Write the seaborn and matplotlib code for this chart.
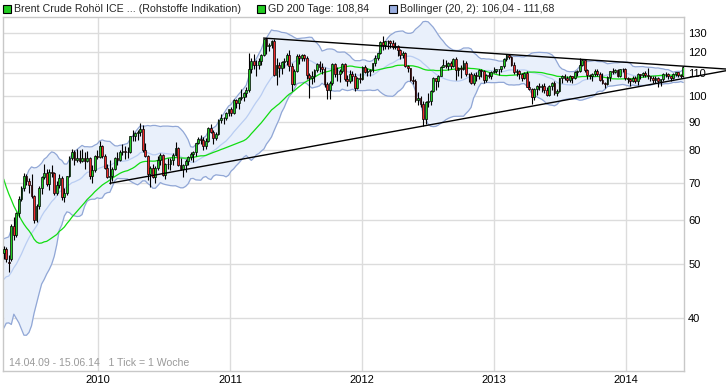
import numpy as np
import pandas as pd
import matplotlib
matplotlib.use("Agg")
import matplotlib.pyplot as plt
from matplotlib.patches import Rectangle
from matplotlib.ticker import NullLocator
import seaborn as sns

# weekly candles Brent Crude, weeks from 14.04.2009 to 09.06.2014
first_week = "2009-04-14"

opens = [
    # 2009
    52.4, 53.2, 50.3, 51.0, 58.4, 56.3, 61.6, 65.4, 68.4, 72.0, 70.4, 69.2, 66.1, 59.9, 63.6, 68.5, 71.7, 72.9, 69.7,
    73.2, 72.8, 67.0, 69.3, 71.2, 65.9, 67.0, 71.8, 77.5, 79.5, 76.9, 77.4, 76.4, 77.5, 76.6, 77.5, 71.8, 73.7, 78.0,
    # 2010
    77.9, 81.4, 78.0, 74.5, 71.5, 71.9, 74.1, 77.6, 77.0, 79.5, 79.8, 79.6, 79.4, 84.8, 84.9, 85.9, 86.2, 87.4, 80.2,
    78.0, 72.5, 74.4, 71.5, 74.4, 77.0, 78.6, 72.1, 75.5, 75.6, 76.9, 78.4, 80.7, 75.4, 74.0, 75.2, 76.6, 77.9, 78.7,
    79.3, 82.3, 83.9, 83.6, 81.5, 83.2, 87.9, 86.3, 84.3, 85.6, 90.7, 91.4, 91.4, 93.5,
    # 2011
    94.8, 93.3, 98.7, 97.4, 99.4, 99.8, 101.4, 102.5, 112.1, 116.0, 113.8, 114.0, 115.6, 118.7, 126.7, 123.4, 123.9,
    125.9, 109.1, 113.8, 112.4, 115.1, 115.8, 118.8, 113.2, 105.1, 111.3, 118.3, 117.2, 118.7, 117.0, 109.4, 108.0,
    108.6, 111.4, 114.3, 112.8, 112.2, 105.1, 102.8, 105.9, 114.4, 109.6, 109.9, 111.0, 114.2, 107.6, 106.4, 109.9,
    108.6, 103.4, 107.9,
    # 2012
    107.4, 113.1, 110.4, 110.9, 111.5, 114.6, 117.3, 119.6, 125.5, 123.7, 125.9, 125.8, 124.9, 122.9, 123.4, 121.2,
    118.9, 119.8, 113.2, 112.3, 107.1, 106.8, 98.4, 99.5, 97.0, 90.9, 97.8, 98.2, 102.4, 107.8, 106.5, 109.0, 113.0,
    113.7, 113.6, 114.6, 113.5, 116.7, 111.4, 112.4, 112.0, 114.6, 109.6, 109.6, 105.7, 109.4, 108.9, 111.4, 111.2,
    107.0, 109.2, 109.0, 110.6,
    # 2013
    111.3, 111.9, 111.9, 113.3, 116.8, 118.9, 117.7, 114.0, 110.4, 110.9, 109.8, 107.9, 110.0, 104.1, 102.9, 99.7,
    102.9, 104.2, 103.9, 104.6, 102.6, 100.4, 104.6, 105.9, 101.4, 102.2, 107.7, 108.8, 108.1, 107.2, 108.9, 108.0,
    110.4, 111.0, 114.0, 116.1, 111.7, 109.2, 108.6, 109.5, 111.3, 109.9, 106.9, 105.5, 105.1, 108.5, 111.0, 110.8,
    111.6, 108.8, 111.8, 112.2,
    # 2014
    107.8, 107.3, 106.5, 107.9, 106.4, 109.6, 109.1, 110.1, 109.1, 108.9, 108.0, 106.9, 108.1, 106.7, 107.3, 109.5,
    109.6, 108.6, 108.0, 109.8, 110.5, 109.4, 108.6,
]

highs = [
    # 2009
    53.8, 53.6, 51.8, 58.9, 60.6, 62.0, 66.2, 69.0, 72.8, 72.6, 71.2, 72.4, 66.4, 64.0, 69.0, 72.0, 75.5, 74.0, 74.0,
    75.2, 73.2, 70.5, 72.5, 71.8, 68.4, 72.0, 78.0, 80.6, 80.0, 80.4, 80.0, 80.6, 79.6, 79.8, 77.8, 75.4, 78.4, 80.0,
    # 2010
    83.0, 81.9, 78.8, 75.6, 77.0, 74.8, 77.9, 79.4, 80.0, 82.0, 81.5, 81.0, 85.0, 86.9, 86.2, 87.0, 89.4, 88.9, 82.4,
    78.4, 75.0, 75.7, 75.0, 78.2, 79.2, 78.9, 76.0, 77.4, 77.5, 79.0, 82.7, 81.2, 77.6, 75.6, 77.2, 78.3, 79.6, 79.8,
    82.6, 84.6, 85.2, 84.6, 84.2, 88.0, 89.2, 87.0, 86.4, 91.2, 92.8, 92.0, 93.8, 95.0,
    # 2011
    95.8, 98.8, 99.0, 99.6, 103.0, 102.0, 104.0, 119.8, 117.0, 119.0, 116.2, 117.0, 119.0, 127.0, 127.6, 124.8, 126.4,
    127.0, 117.0, 115.2, 115.6, 117.0, 119.8, 121.0, 114.6, 112.0, 119.0, 119.4, 119.4, 119.4, 118.0, 110.2, 111.0,
    111.8, 115.0, 115.8, 114.6, 113.0, 106.0, 106.6, 114.8, 114.6, 112.8, 111.8, 115.0, 114.8, 109.4, 111.4, 111.2,
    110.0, 108.4, 110.0,
    # 2012
    113.6, 114.0, 112.4, 111.8, 115.0, 118.6, 119.8, 125.8, 128.4, 126.0, 126.5, 126.2, 126.2, 125.2, 123.8, 121.8,
    120.6, 120.2, 114.0, 112.6, 109.0, 107.4, 102.0, 100.2, 98.0, 98.0, 101.6, 102.6, 108.2, 108.0, 109.4, 113.4,
    116.8, 116.2, 115.4, 115.6, 117.0, 117.9, 113.0, 113.8, 116.2, 116.0, 110.2, 110.6, 110.2, 110.8, 112.0, 112.0,
    111.6, 109.6, 110.6, 111.0, 113.0,
    # 2013
    112.2, 112.2, 113.6, 117.0, 119.2, 119.2, 118.2, 115.2, 111.8, 111.4, 110.2, 110.6, 111.0, 106.4, 103.4, 103.6,
    105.0, 105.6, 105.2, 105.6, 104.0, 105.0, 106.2, 106.6, 103.0, 108.0, 109.4, 109.6, 108.6, 109.4, 109.0, 111.0,
    111.6, 117.3, 116.6, 116.4, 112.2, 109.6, 110.0, 112.0, 111.8, 110.6, 110.0, 106.2, 108.8, 111.2, 112.4, 112.0,
    112.2, 112.0, 112.4, 112.6,
    # 2014
    108.2, 107.8, 108.8, 108.6, 110.0, 109.9, 110.6, 111.0, 112.4, 109.0, 108.6, 108.6, 108.2, 107.6, 110.0, 110.4,
    110.0, 108.8, 110.2, 110.8, 110.8, 109.8, 113.6,
]

lows = [
    # 2009
    51.0, 50.4, 48.4, 50.6, 55.2, 55.8, 60.8, 64.8, 67.5, 69.4, 67.0, 65.8, 59.2, 59.5, 62.8, 66.9, 71.0, 69.0, 68.0,
    71.6, 66.6, 66.4, 68.4, 65.2, 64.6, 66.4, 71.5, 76.8, 75.2, 76.2, 76.0, 76.1, 74.0, 76.2, 71.0, 70.0, 73.2, 77.2,
    # 2010
    77.4, 77.6, 74.0, 71.2, 69.6, 70.5, 73.6, 75.2, 76.4, 78.5, 77.2, 77.6, 79.0, 83.2, 83.0, 83.6, 84.8, 79.6, 77.8,
    70.8, 68.6, 71.2, 70.0, 73.8, 75.4, 71.8, 71.0, 74.2, 73.6, 75.4, 78.2, 75.0, 73.6, 71.6, 73.2, 75.2, 77.0, 76.2,
    78.0, 82.0, 82.0, 80.2, 80.6, 82.8, 85.8, 82.2, 83.6, 85.2, 89.4, 89.2, 90.8, 92.4,
    # 2011
    92.2, 93.0, 95.4, 94.8, 98.6, 98.0, 99.6, 102.0, 110.0, 112.2, 108.6, 112.2, 114.0, 118.0, 119.0, 120.6, 122.4,
    108.8, 105.0, 108.2, 109.8, 112.6, 113.8, 111.2, 102.2, 104.8, 110.6, 114.2, 115.6, 115.8, 107.6, 99.4, 105.2,
    106.0, 110.6, 110.8, 109.8, 104.0, 99.0, 99.0, 105.0, 108.2, 106.4, 106.0, 110.2, 106.8, 104.6, 105.8, 106.6,
    102.4, 103.2, 105.8,
    # 2012
    107.2, 110.0, 108.8, 108.6, 110.6, 113.2, 116.2, 119.2, 121.0, 121.6, 121.8, 122.0, 121.6, 121.8, 118.4, 116.6,
    117.2, 112.8, 110.6, 106.4, 105.2, 97.6, 96.6, 95.6, 88.5, 89.2, 95.6, 96.4, 101.8, 102.8, 103.8, 108.6, 112.8,
    112.6, 111.4, 112.2, 113.0, 107.2, 108.6, 107.8, 111.6, 109.0, 106.2, 105.2, 104.8, 106.8, 107.6, 108.2, 105.8,
    106.0, 107.8, 107.6, 110.0,
    # 2013
    110.0, 109.4, 110.6, 112.4, 115.6, 116.8, 113.4, 109.8, 108.8, 107.6, 106.8, 107.4, 103.8, 102.6, 97.0, 98.6,
    100.4, 102.6, 101.8, 101.6, 100.2, 100.0, 102.8, 100.6, 100.2, 101.8, 105.6, 107.0, 106.2, 106.2, 105.8, 107.6,
    108.6, 110.4, 113.6, 110.8, 107.6, 107.6, 106.6, 108.8, 108.6, 106.4, 105.4, 103.4, 104.8, 106.8, 109.6, 110.0,
    108.2, 108.2, 110.8, 107.2,
    # 2014
    105.8, 104.6, 106.0, 105.6, 104.8, 107.4, 108.2, 108.2, 107.6, 106.4, 105.6, 105.6, 103.8, 104.4, 106.6, 108.2,
    107.4, 106.8, 107.6, 108.6, 108.4, 107.8, 108.4,
]

closes = [
    # 2009
    53.2, 51.0, 50.2, 58.4, 56.3, 61.6, 65.4, 68.4, 72.0, 70.4, 69.2, 66.1, 59.9, 63.6, 68.5, 71.7, 72.9, 69.7, 73.2,
    72.8, 67.0, 69.3, 71.2, 65.9, 67.0, 71.8, 77.5, 79.5, 76.9, 77.4, 76.4, 77.5, 76.6, 77.5, 71.8, 73.7, 78.0, 77.9,
    # 2010
    81.4, 78.0, 74.5, 71.5, 71.9, 74.1, 77.6, 77.0, 79.5, 79.8, 79.6, 79.4, 84.8, 84.9, 85.9, 86.2, 87.4, 80.2, 78.0,
    72.5, 74.4, 71.5, 74.4, 77.0, 78.6, 72.1, 75.5, 75.6, 76.9, 78.4, 80.7, 75.4, 74.0, 75.2, 76.6, 77.9, 78.7, 79.3,
    82.3, 83.9, 83.6, 81.5, 83.2, 87.9, 86.3, 84.3, 85.6, 90.7, 91.4, 91.4, 93.5, 94.8,
    # 2011
    93.3, 98.7, 97.4, 99.4, 99.8, 101.4, 102.5, 112.1, 116.0, 113.8, 114.0, 115.6, 118.7, 126.7, 123.4, 123.9, 125.9,
    109.1, 113.8, 112.4, 115.1, 115.8, 118.8, 113.2, 105.1, 111.3, 118.3, 117.2, 118.7, 117.0, 109.4, 108.0, 108.6,
    111.4, 114.3, 112.8, 112.2, 105.1, 102.8, 105.9, 114.4, 109.6, 109.9, 111.0, 114.2, 107.6, 106.4, 109.9, 108.6,
    103.4, 107.9, 107.4,
    # 2012
    113.1, 110.4, 110.9, 111.5, 114.6, 117.3, 119.6, 125.5, 123.7, 125.9, 125.8, 124.9, 122.9, 123.4, 121.2, 118.9,
    119.8, 113.2, 112.3, 107.1, 106.8, 98.4, 99.5, 97.0, 90.9, 97.8, 98.2, 102.4, 107.8, 106.5, 109.0, 113.0, 113.7,
    113.6, 114.6, 113.5, 116.7, 111.4, 112.4, 112.0, 114.6, 109.6, 109.6, 105.7, 109.4, 108.9, 111.4, 111.2, 107.0,
    109.2, 109.0, 110.6, 111.3,
    # 2013
    111.9, 111.9, 113.3, 116.8, 118.9, 117.7, 114.0, 110.4, 110.9, 109.8, 107.9, 110.0, 104.1, 102.9, 99.7, 102.9,
    104.2, 103.9, 104.6, 102.6, 100.4, 104.6, 105.9, 101.4, 102.2, 107.7, 108.8, 108.1, 107.2, 108.9, 108.0, 110.4,
    111.0, 114.0, 116.1, 111.7, 109.2, 108.6, 109.5, 111.3, 109.9, 106.9, 105.5, 105.1, 108.5, 111.0, 110.8, 111.6,
    108.8, 111.8, 112.2, 107.8,
    # 2014
    107.3, 106.5, 107.9, 106.4, 109.6, 109.1, 110.1, 109.1, 108.9, 108.0, 106.9, 108.1, 106.7, 107.3, 109.5, 109.6,
    108.6, 108.0, 109.8, 110.5, 109.4, 108.6, 113.0,
]

# weekly closes before the chart window (Jul 2008 - Apr 2009), needed for the indicators
pre_closes = [
    144.3, 144.5, 129.3, 123.3, 124.7, 113.9, 113.8, 114.6, 114.1, 105.5, 98.9, 101.6, 104.5, 90.3, 80.6, 69.4, 62.1,
    65.2, 58.0, 55.9, 49.9, 53.5, 40.8, 47.4, 43.4, 37.6, 46.9, 44.7, 47.1, 46.6, 45.9, 46.5, 45.9, 42.6, 45.2,
    45.5, 46.0, 51.4, 53.0, 54.0, 54.2,
]

# triangle trend lines (date, price)
upper_line = (["2011-04-04", "2014-10-06"], [127.3, 112.0])
lower_line = (["2010-02-02", "2014-10-06"], [69.8, 111.2])

y_ticks = [40, 50, 60, 70, 80, 90, 100, 110, 120, 130]
years = [2010, 2011, 2012, 2013, 2014]

legend_items = [
    ("Brent Crude Rohöl ICE ... (Rohstoffe Indikation)", "#22cc22"),
    ("GD 200 Tage: 108,84", "#22cc22"),
    ("Bollinger (20, 2): 106,04 - 111,68", "#9aaee0"),
]
range_text = "14.04.09 - 15.06.14   1 Tick = 1 Woche"

assert len(opens) == len(highs) == len(lows) == len(closes) == 270

dates = pd.date_range(first_week, periods=len(closes), freq="7D")
df = pd.DataFrame({"date": dates, "open": opens, "high": highs, "low": lows, "close": closes})

# indicators: 200 day average (about 41 weeks) and Bollinger (20, 2)
all_close = pd.Series(pre_closes + closes)
n_pre = len(pre_closes)
df["gd200"] = all_close.rolling(41).mean().iloc[n_pre:].values
mid = all_close.rolling(20).mean().iloc[n_pre:].values
sd = all_close.rolling(20).std(ddof=0).iloc[n_pre:].values
df["bb_mid"] = mid
df["bb_up"] = mid + 2 * sd
df["bb_lo"] = mid - 2 * sd

sns.set_style("white")
plt.rcParams["font.family"] = ["Liberation Sans", "DejaVu Sans"]

fig = plt.figure(figsize=(7.26, 3.9), dpi=100)
ax = fig.add_axes([3 / 726, 19 / 390, 681 / 726, 354 / 390])
ax.set_yscale("log")

# Bollinger band
ax.fill_between(df["date"], df["bb_lo"], df["bb_up"], color="#e9f0fb", lw=0, zorder=1)
sns.lineplot(data=df, x="date", y="bb_up", ax=ax, color="#91a7d6", lw=0.9, zorder=2)
sns.lineplot(data=df, x="date", y="bb_lo", ax=ax, color="#91a7d6", lw=0.9, zorder=2)
sns.lineplot(data=df, x="date", y="bb_mid", ax=ax, color="#b9cdf2", lw=0.9, zorder=2)
sns.lineplot(data=df, x="date", y="gd200", ax=ax, color="#11dd11", lw=0.9, zorder=2.5)

# candles
up = df["close"] >= df["open"]
ax.vlines(df["date"], df["low"], df["high"], color="black", lw=0.8, zorder=3)
body_lo = df[["open", "close"]].min(axis=1)
body_h = (df["close"] - df["open"]).abs().clip(lower=0.05)
ax.bar(df["date"], body_h, bottom=body_lo, width=5, color=np.where(up, "#22cc22", "#ee2a2a"),
       edgecolor="black", linewidth=0.5, zorder=4)

# trend lines
for xs, ys in (upper_line, lower_line):
    ax.plot(pd.to_datetime(xs), ys, color="black", lw=1, zorder=5, clip_on=False)

ax.set_xlim(pd.Timestamp("2009-04-12"), pd.Timestamp("2014-06-12"))
ax.set_ylim(32.1, 138.9)
ax.set_yticks(y_ticks)
ax.set_yticklabels([str(v) for v in y_ticks])
ax.yaxis.set_minor_locator(NullLocator())
ax.yaxis.tick_right()
ax.set_xticks([pd.Timestamp(f"{y}-01-01") for y in years])
ax.set_xticklabels([str(y) for y in years])
ax.tick_params(axis="both", length=0, labelsize=8, colors="black")
ax.tick_params(axis="y", pad=3)
ax.tick_params(axis="x", pad=3)
ax.grid(True, color="#dcdcdc", lw=1)
ax.set_axisbelow(True)
for s in ax.spines.values():
    s.set_color("#c8c8c8")
    s.set_linewidth(1)
ax.set_xlabel("")
ax.set_ylabel("")

ax.text(6 / 681, 8 / 354, range_text, transform=ax.transAxes, fontsize=7.6, color="#9a9a9a", va="center")

# legend row at the top
legend_x = [3, 257, 389]
for (label, col), x0 in zip(legend_items, legend_x):
    fig.patches.append(Rectangle((x0 / 726, 1 - 13 / 390), 8 / 726, 8 / 390, transform=fig.transFigure,
                                 facecolor=col, edgecolor="black", lw=0.8))
    fig.text((x0 + 11) / 726, 1 - 9 / 390, label, fontsize=7.7, va="center")

fig.savefig("out.png", dpi=100)
